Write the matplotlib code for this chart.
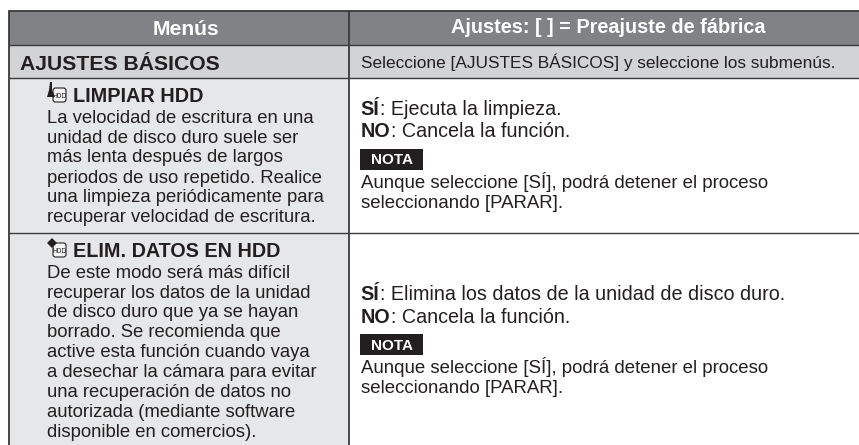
#!/usr/bin/env python

import matplotlib
matplotlib.use('Agg')
from matplotlib import pyplot as plt
from matplotlib.patches import Rectangle, FancyBboxPatch, Polygon

plt.rcParams['font.family'] = ['Liberation Sans', 'DejaVu Sans']

INK = '#231f20'
LINE = '#3a3a3c'
BODY = 13.33

header_left = 'Menús'
header_right = 'Ajustes: [ ] = Preajuste de fábrica'
section_left = 'AJUSTES BÁSICOS'
section_right = 'Seleccione [AJUSTES BÁSICOS] y seleccione los submenús.'

title_1 = 'LIMPIAR HDD'
lines_1 = ['La velocidad de escritura en una',
           'unidad de disco duro suele ser',
           'más lenta después de largos',
           'periodos de uso repetido. Realice',
           'una limpieza periódicamente para',
           'recuperar velocidad de escritura.']
baselines_1 = [123, 143, 162.5, 183, 202.5, 222]

title_2 = 'ELIM. DATOS EN HDD'
lines_2 = ['De este modo será más difícil',
           'recuperar los datos de la unidad',
           'de disco duro que ya se hayan',
           'borrado. Se recomienda que',
           'active esta función cuando vaya',
           'a desechar la cámara para evitar',
           'una recuperación de datos no',
           'autorizada (mediante software',
           'disponible en comercios).']
baselines_2 = [278, 297.5, 317, 337, 357, 377, 397, 417, 437]

si_1 = ': Ejecuta la limpieza.'
si_2 = ': Elimina los datos de la unidad de disco duro.'
no_text = ': Cancela la función.'
nota_lines = ['Aunque seleccione [SÍ], podrá detener el proceso',
              'seleccionando [PARAR].']

x_left, x_mid, x_right = 8.5, 348.5, 859
row_edges = [10.5, 44.5, 78, 233, 445]

fig = plt.figure(figsize=(8.59, 4.45), dpi=100)
ax = fig.add_axes([0, 0, 1, 1])
ax.set_xlim(0, 859)
ax.set_ylim(445, 0)
ax.axis('off')


def fill(x0, x1, y0, y1, color):
    ax.add_patch(Rectangle((x0, y0), x1 - x0, y1 - y0, fc=color, ec='none', zorder=1))


def txt(x, y, s, size=BODY, weight='normal', color=INK, ha='left'):
    return ax.text(x, y, s, fontsize=size, fontweight=weight, color=color,
                   ha=ha, va='baseline', zorder=5)


def labelled(x, y, bold, rest):
    # bold lead-in followed by regular text on the same baseline
    t = txt(x, y, bold, size=14.25, weight='bold')
    box = t.get_window_extent(fig.canvas.get_renderer())
    x2 = ax.transData.inverted().transform((box.x1, box.y0))[0]
    txt(x2 + 0.5, y, rest, size=14.25)


def nota(y0):
    fill(360, 423, y0, y0 + 21.5, INK)
    txt(391.5, y0 + 16, 'NOTA', size=11, weight='bold', color='white', ha='center')


def hdd_icon(x, y):
    ax.add_patch(FancyBboxPatch((x, y), 13, 14, boxstyle='round,pad=0,rounding_size=2.5',
                                fc='#f4f4f4', ec=INK, lw=0.8, zorder=4))
    txt(x + 6.5, y + 10, 'HDD', size=4.8, ha='center')


# cell backgrounds
fill(x_left, x_mid, row_edges[0], row_edges[1], '#808285')
fill(x_mid, x_right, row_edges[0], row_edges[1], '#808285')
fill(x_left, x_right, row_edges[1], row_edges[2], '#d1d3d4')
fill(x_left, x_mid, row_edges[2], row_edges[4], '#e6e7e8')

# rules
for y, lw in zip(row_edges[:4], [1.3, 1.0, 1.0, 1.0]):
    ax.plot([x_left, x_right], [y, y], color=LINE, lw=lw, zorder=3, solid_capstyle='butt')
ax.plot([x_left, x_left], [row_edges[0], row_edges[4]], color=LINE, lw=1.3, zorder=3)
ax.plot([x_mid, x_mid], [row_edges[0], row_edges[4]], color=LINE, lw=1.3, zorder=3)

# header and section row
txt(186, 35, header_left, size=15.2, weight='bold', color='white', ha='center')
txt(451, 33, header_right, size=14.3, weight='bold', color='white')
txt(20, 70, section_left, size=15.2, weight='bold')
txt(361, 68, section_right, size=12.4)

# left column, first item
hdd_icon(53, 88)
ax.add_patch(Polygon([[50, 82], [52, 82], [52, 90], [55, 97], [47, 97], [49, 90]],
                     fc=INK, ec='none', zorder=4))
txt(73, 102, title_1, size=14.3, weight='bold')
for s, y in zip(lines_1, baselines_1):
    txt(47, y, s)

# left column, second item
hdd_icon(53, 243)
ax.add_patch(Polygon([[52, 238], [57, 243], [52, 248], [47, 243]], fc=INK, ec='none', zorder=4))
txt(73, 257, title_2, size=14.2, weight='bold')
for s, y in zip(lines_2, baselines_2):
    txt(47, y, s)

# right column, first item
labelled(360.5, 115, 'SÍ', si_1)
labelled(360.5, 137, 'NO', no_text)
nota(148.5)
txt(361, 188, nota_lines[0], size=13.4)
txt(361, 208, nota_lines[1], size=13.4)

# right column, second item
labelled(360.5, 300, 'SÍ', si_2)
labelled(360.5, 323, 'NO', no_text)
nota(333.5)
txt(361, 373, nota_lines[0], size=13.4)
txt(361, 393, nota_lines[1], size=13.4)

fig.savefig('out.png', dpi=100, facecolor='white')
